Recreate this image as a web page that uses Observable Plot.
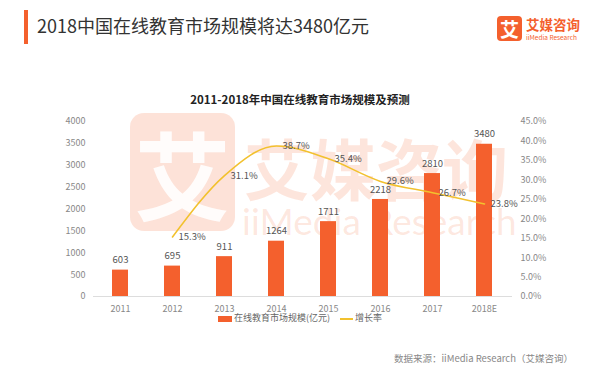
<!DOCTYPE html>
<html><head><meta charset="utf-8">
<script src="https://cdn.jsdelivr.net/npm/d3@7"></script>
<script src="https://cdn.jsdelivr.net/npm/@observablehq/plot@0.6"></script>
<style>
body{margin:0;background:#fff;font-family:"Noto Sans CJK SC","Noto Sans",sans-serif;}
#wrap{position:relative;width:600px;height:378px;overflow:hidden;background:#fff;}
.abs{position:absolute;white-space:nowrap;}
</style></head>
<body><div id="wrap">
<div class="abs" style="left:24px;top:10px;width:4px;height:34px;background:#F4602D"></div>
<div class="abs" id="title" style="left:37px;top:13px;font-size:18px;color:#333;line-height:24px"></div>
<div class="abs" style="left:497px;top:16px;width:25px;height:25px;background:#F4602D;border-radius:4px;color:#fff;font-size:19px;line-height:25px;text-align:center;font-weight:bold">艾</div>
<div class="abs" style="left:526px;top:15px;font-size:13.5px;color:#F4602D;line-height:18px;font-weight:bold">艾媒咨询</div>
<div class="abs" style="left:526px;top:33px;font-size:6.5px;color:#F4602D;line-height:8px">iiMedia Research</div>
<!-- watermark -->
<div class="abs" style="left:130px;top:113px;width:105px;height:118px;background:rgba(245,110,60,0.2);border-radius:14px;color:rgba(255,255,255,0.9);font-size:96px;line-height:118px;text-align:center;font-weight:bold">艾</div>
<div class="abs" style="left:244px;top:128px;font-size:66px;color:rgba(245,110,60,0.18);line-height:76px;font-weight:bold">艾媒咨询</div>
<div class="abs" style="left:242px;top:200px;font-size:37px;color:rgba(245,110,60,0.16);line-height:42px;font-family:Lato,sans-serif">iiMedia Research</div>
<div class="abs" id="sub" style="left:0;width:600px;text-align:center;top:91px;font-size:11.5px;font-weight:bold;color:#222;line-height:16px"></div>
<div class="abs" id="chart" style="left:0;top:0"></div>
<div class="abs" id="legend" style="left:0;width:600px;top:311px;text-align:center;font-size:9px;color:#666;line-height:14px"></div>
<div class="abs" id="src" style="left:394px;top:351px;font-size:9.5px;color:#888;line-height:14px"></div>
</div>
<script>
const titleText = "2018中国在线教育市场规模将达3480亿元";
const subtitleText = "2011-2018年中国在线教育市场规模及预测";
const sourceText = "数据来源：iiMedia Research（艾媒咨询）";
const barLabel = "在线教育市场规模(亿元)";
const lineLabel = "增长率";
const years = ["2011","2012","2013","2014","2015","2016","2017","2018E"];
const market = [603, 695, 911, 1264, 1711, 2218, 2810, 3480];
const growthYears = ["2012","2013","2014","2015","2016","2017","2018E"];
const growth = [15.3, 31.1, 38.7, 35.4, 29.6, 26.7, 23.8];
const leftTicks = [0,500,1000,1500,2000,2500,3000,3500,4000];
const rightTicks = [0,5,10,15,20,25,30,35,40,45];
const leftMax = 4000, rightMax = 45;

document.getElementById("title").textContent = titleText;
document.getElementById("sub").textContent = subtitleText;
document.getElementById("src").textContent = sourceText;
document.getElementById("legend").innerHTML =
  `<span style="display:inline-block;width:14px;height:6px;background:#F4602D;vertical-align:middle;margin-right:2px"></span>${barLabel}` +
  `<span style="display:inline-block;width:13px;height:2px;background:#F2C12E;vertical-align:middle;margin:0 2px 0 10px"></span>${lineLabel}`;

const bars = years.map((y,i)=>({year:y, value:market[i]}));
const line = growthYears.map((y,i)=>({year:y, g:growth[i], v:growth[i]/rightMax*leftMax}));

const chart = Plot.plot({
  width:600, height:378,
  marginLeft:93, marginRight:88, marginTop:121, marginBottom:82,
  style:{background:"transparent", fontFamily:"'Noto Sans CJK SC','Noto Sans',sans-serif", fontSize:"9px", color:"#888"},
  x:{domain:years, paddingInner:0.69, paddingOuter:0.35, label:null},
  y:{domain:[0,leftMax], label:null},
  marks:[
    Plot.axisY({ticks:leftTicks, tickFormat:d=>String(d), tickSize:0, tickPadding:8, label:null, fill:"#888"}),
    Plot.axisY({anchor:"right", ticks:rightTicks.map(p=>p/rightMax*leftMax), tickFormat:d=>(d/leftMax*rightMax).toFixed(1)+"%", tickSize:0, tickPadding:8, label:null, fill:"#888", textAnchor:"start"}),
    Plot.axisX({tickSize:0, tickPadding:9, label:null, fill:"#888"}),
    Plot.ruleY([0], {stroke:"#ddd"}),
    Plot.barY(bars, {x:"year", y:"value", fill:"#F4602D"}),
    Plot.text(bars, {x:"year", y:"value", text:d=>String(d.value), dy:-10, fill:"#555", fontSize:9.5}),
    Plot.line(line, {x:"year", y:"v", stroke:"#F2C12E", strokeWidth:1.6, curve:"monotone-x"}),
    Plot.text(line, {x:"year", y:"v", text:d=>d.g.toFixed(1)+"%", dx:6, textAnchor:"start", fill:"#555", fontSize:9.5})
  ]
});
document.getElementById("chart").appendChild(chart);
</script>
</body></html>
